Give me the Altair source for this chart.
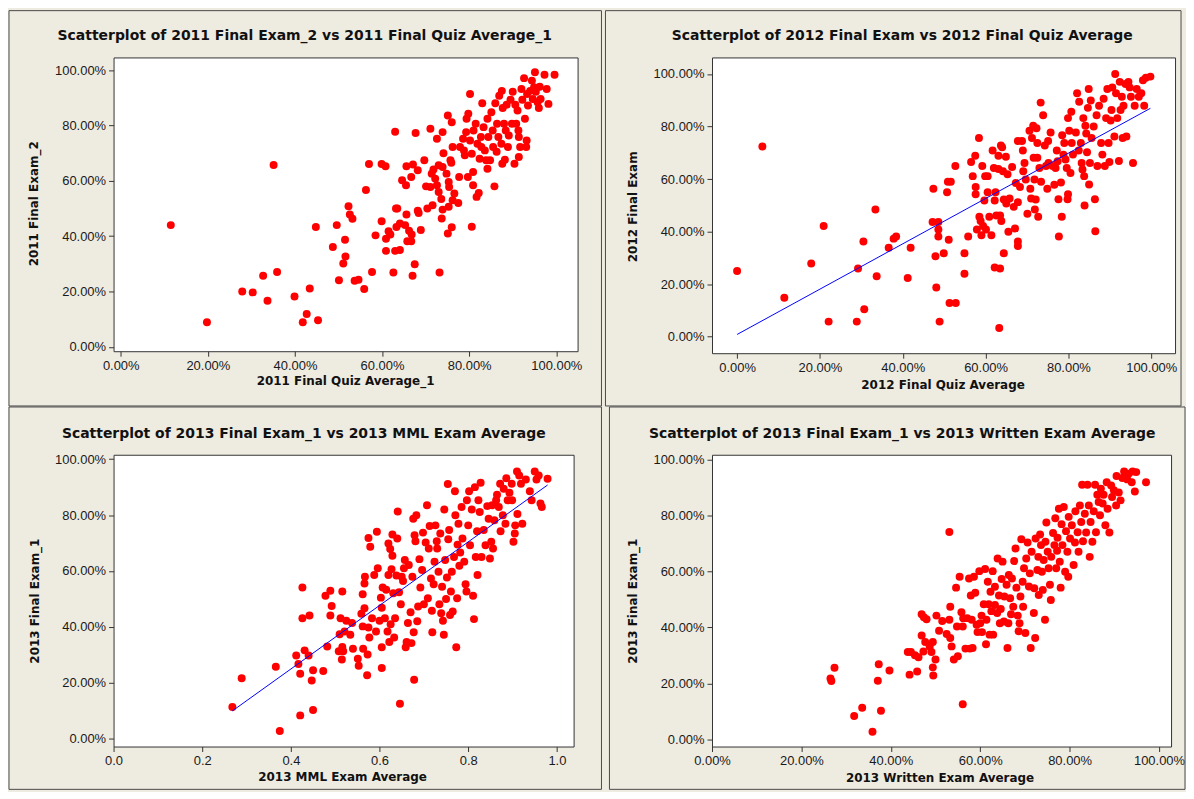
import altair as alt
import pandas as pd

# ---------------- data ----------------
# Panel 1: 2011 Final Quiz Average_1 (x, %) vs 2011 Final Exam_2 (y, %)
p1_x = [11.5, 19.8, 35.1, 27.9, 30.3, 32.7, 33.7, 35.9, 39.9, 41.8,
        42.7, 43.4, 45.3, 44.8, 48.7, 49.6, 50.1, 51.1, 51.5, 51.6,
        52.3, 52.6, 53.2, 53.7, 54.6, 55.9, 56.3, 57.0, 57.7, 58.5,
        59.9, 59.9, 60.8, 60.9, 60.9, 61.5, 61.9, 62.6, 63.0, 63.0,
        63.2, 63.5, 63.3, 64.1, 64.1, 64.6, 65.3, 65.5, 65.6, 65.6,
        65.8, 66.2, 66.7, 66.7, 66.8, 67.0, 67.1, 67.5, 67.7, 68.2,
        68.2, 68.4, 68.9, 69.7, 70.1, 70.4, 71.1, 71.1, 71.4, 71.6,
        71.8, 72.2, 72.6, 72.6, 73.0, 73.0, 73.2, 73.6, 73.7, 73.9,
        73.9, 73.9, 74.1, 74.8, 75.1, 75.1, 75.3, 75.4, 75.3, 75.7,
        75.9, 76.0, 76.0, 76.2, 76.6, 76.2, 77.5, 77.7, 77.9, 78.6,
        78.8, 79.0, 79.3, 79.4, 79.7, 79.8, 80.2, 80.2, 80.6, 80.9,
        80.9, 80.6, 81.0, 81.5, 81.7, 81.9, 82.2, 82.4, 82.7, 82.8,
        83.0, 83.3, 83.6, 83.9, 84.2, 84.2, 84.4, 84.8, 85.1, 85.4,
        85.5, 85.8, 86.0, 86.3, 86.4, 86.7, 86.9, 87.4, 87.5, 87.6,
        87.7, 88.0, 88.2, 88.4, 88.6, 88.9, 89.1, 89.5, 89.8, 90.0,
        90.4, 90.6, 90.8, 91.1, 91.3, 91.4, 91.4, 91.7, 92.0, 92.2,
        92.6, 92.8, 93.1, 93.2, 93.3, 93.5, 94.0, 94.4, 94.6, 94.9,
        95.1, 95.3, 95.7, 96.0, 96.2, 96.4, 97.3, 97.8, 98.2, 99.6]
p1_y = [44.0, 8.9, 65.7, 20.0, 19.7, 25.7, 16.7, 27.1, 18.2, 8.9,
        11.9, 21.1, 9.6, 43.3, 36.1, 44.0, 24.1, 30.1, 38.7, 32.7,
        50.8, 47.8, 46.3, 23.9, 24.3, 20.9, 56.7, 66.1, 27.1, 40.3,
        66.1, 45.4, 65.3, 39.1, 34.7, 41.8, 40.6, 26.9, 77.7, 34.7,
        50.0, 50.0, 43.3, 35.0, 44.6, 60.2, 44.0, 58.4, 65.3, 47.8,
        38.2, 42.0, 38.2, 61.4, 40.6, 25.7, 65.9, 29.9, 77.3, 63.8,
        49.2, 48.4, 42.2, 67.4, 58.0, 50.0, 78.8, 57.8, 62.6, 51.2,
        64.1, 60.8, 75.2, 58.4, 65.6, 56.0, 26.9, 53.4, 46.4, 77.6,
        65.0, 49.6, 70.0, 62.6, 83.6, 41.0, 59.6, 57.8, 50.6, 67.4,
        66.5, 81.2, 43.2, 53.0, 55.4, 72.2, 52.0, 61.4, 72.2, 75.2,
        71.0, 69.2, 77.6, 82.4, 61.4, 84.2, 91.4, 74.6, 43.4, 58.4,
        63.2, 69.8, 78.2, 80.6, 54.2, 73.4, 55.6, 68.0, 75.8, 72.2,
        88.0, 79.4, 71.0, 67.4, 82.4, 64.4, 75.8, 67.4, 84.8, 78.2,
        72.2, 58.0, 88.0, 70.5, 80.6, 75.8, 90.7, 73.4, 92.5, 66.2,
        86.3, 80.6, 67.6, 78.2, 87.5, 72.2, 76.4, 89.3, 80.6, 92.2,
        66.2, 87.5, 80.6, 85.4, 78.2, 75.8, 68.6, 72.2, 93.2, 89.3,
        97.1, 82.4, 72.2, 74.6, 91.4, 87.2, 92.5, 96.2, 89.6, 93.8,
        99.2, 92.2, 88.4, 86.3, 94.0, 89.6, 98.3, 93.2, 87.8, 98.3]

# Panel 2: 2012 Final Quiz Average (x, %) vs 2012 Final Exam (y, %)
p2_x = [0.0, 6.1, 11.4, 17.9, 20.9, 22.1, 28.9, 29.2, 30.5, 30.7,
        33.4, 33.7, 36.6, 37.8, 38.4, 41.2, 41.9, 47.4, 47.2, 47.9,
        48.1, 48.6, 48.6, 48.6, 48.9, 49.9, 50.7, 50.9, 51.3, 51.1,
        51.6, 52.7, 52.8, 54.9, 54.9, 55.8, 56.5, 56.9, 57.5, 57.6,
        57.6, 57.9, 58.4, 58.5, 58.8, 59.0, 59.2, 59.4, 59.7, 59.9,
        60.1, 60.5, 60.5, 60.9, 61.4, 61.7, 62.0, 62.2, 62.2, 62.4,
        62.6, 63.1, 63.1, 63.3, 63.5, 63.5, 63.7, 63.8, 64.0, 64.2,
        64.4, 64.4, 64.9, 65.0, 65.3, 65.5, 65.8, 66.4, 66.8, 67.1,
        67.3, 67.8, 67.8, 67.8, 67.8, 68.3, 68.8, 69.0, 69.1, 69.4,
        69.7, 70.1, 70.6, 70.8, 71.0, 71.2, 71.5, 71.6, 71.8, 71.9,
        72.1, 72.3, 72.5, 72.5, 72.7, 73.0, 73.3, 73.4, 73.9, 74.3,
        74.6, 74.9, 75.1, 75.2, 75.7, 76.2, 76.6, 76.9, 77.2, 77.4,
        77.6, 77.7, 78.2, 78.4, 78.5, 78.8, 79.0, 79.3, 79.6, 79.8,
        79.9, 79.9, 80.2, 80.5, 80.7, 80.8, 81.1, 81.8, 82.1, 82.5,
        82.6, 83.0, 83.2, 83.4, 83.6, 83.8, 83.9, 84.1, 84.3, 84.5,
        84.7, 84.9, 85.0, 85.2, 85.4, 85.6, 86.1, 86.4, 86.5, 86.8,
        87.0, 87.4, 87.9, 88.2, 88.5, 88.8, 89.1, 89.4, 89.7, 89.9,
        90.2, 90.4, 90.6, 91.1, 91.3, 91.5, 91.8, 92.2, 92.4, 92.6,
        92.9, 93.1, 93.3, 93.8, 94.0, 94.5, 94.8, 95.1, 95.6, 96.0,
        96.5, 97.0, 97.6, 98.0, 98.3, 98.7, 99.8]
p2_y = [25.0, 72.4, 14.8, 27.8, 42.1, 5.7, 5.7, 25.9, 36.2, 10.4,
        48.4, 23.0, 33.8, 37.3, 38.1, 22.3, 33.8, 56.3, 43.6, 30.6,
        18.7, 43.6, 40.8, 38.1, 5.7, 31.7, 55.0, 59.0, 12.8, 36.9,
        59.0, 65.0, 12.8, 31.7, 23.9, 38.1, 66.5, 61.1, 68.9, 57.0,
        54.2, 40.8, 75.6, 45.6, 44.0, 38.6, 65.0, 42.1, 51.8, 61.1,
        40.8, 61.1, 55.0, 45.6, 38.6, 70.9, 64.2, 51.8, 26.3, 55.0,
        46.1, 68.9, 63.8, 3.3, 25.9, 46.1, 72.8, 44.0, 72.1, 63.0,
        52.2, 31.7, 68.5, 50.7, 61.8, 39.9, 52.6, 64.6, 49.4, 41.2,
        58.5, 36.2, 34.5, 51.2, 74.5, 57.0, 74.5, 70.9, 63.0, 66.1,
        59.8, 46.8, 78.4, 56.3, 52.6, 75.6, 80.3, 68.1, 59.8, 48.4,
        52.2, 79.3, 68.1, 73.7, 45.6, 64.2, 89.1, 59.0, 84.3, 72.8,
        65.0, 56.3, 74.5, 66.1, 77.7, 65.0, 57.8, 64.2, 70.9, 66.8,
        52.3, 38.1, 58.7, 45.6, 76.7, 69.3, 73.7, 67.4, 64.2, 52.3,
        54.2, 83.2, 78.4, 62.3, 85.6, 73.7, 69.3, 77.7, 92.7, 70.9,
        89.4, 73.7, 66.1, 63.6, 83.2, 61.1, 49.9, 80.3, 77.3, 70.2,
        87.1, 94.3, 57.9, 66.1, 89.9, 75.6, 80.0, 52.3, 40.1, 84.3,
        65.0, 87.9, 73.7, 69.3, 90.6, 65.0, 83.2, 94.3, 73.7, 66.5,
        82.3, 86.3, 94.9, 76.2, 100.0, 92.7, 83.2, 66.9, 97.0, 86.3,
        91.3, 75.6, 87.9, 96.2, 76.2, 97.0, 94.9, 91.3, 66.1, 87.9,
        94.3, 91.3, 92.7, 97.6, 87.9, 98.6, 99.0]

# Panel 3: 2013 MML Exam Average (x, fraction) vs 2013 Final Exam_1 (y, %)
p3_x = [0.268, 0.289, 0.366, 0.375, 0.412, 0.417, 0.421, 0.421, 0.426, 0.426,
        0.431, 0.440, 0.442, 0.447, 0.450, 0.450, 0.473, 0.478, 0.482, 0.489,
        0.489, 0.492, 0.508, 0.510, 0.512, 0.515, 0.516, 0.516, 0.518, 0.521,
        0.525, 0.534, 0.538, 0.540, 0.551, 0.553, 0.559, 0.562, 0.562, 0.563,
        0.566, 0.566, 0.567, 0.572, 0.573, 0.575, 0.575, 0.577, 0.579, 0.583,
        0.588, 0.592, 0.594, 0.596, 0.600, 0.603, 0.605, 0.605, 0.605, 0.607,
        0.612, 0.615, 0.618, 0.620, 0.620, 0.622, 0.624, 0.625, 0.627, 0.629,
        0.629, 0.631, 0.633, 0.635, 0.638, 0.640, 0.641, 0.644, 0.646, 0.648,
        0.650, 0.653, 0.655, 0.657, 0.659, 0.661, 0.664, 0.666, 0.670, 0.672,
        0.674, 0.676, 0.677, 0.678, 0.679, 0.681, 0.683, 0.685, 0.687, 0.690,
        0.692, 0.696, 0.698, 0.700, 0.704, 0.707, 0.709, 0.711, 0.713, 0.716,
        0.718, 0.719, 0.722, 0.724, 0.726, 0.729, 0.730, 0.733, 0.735, 0.737,
        0.739, 0.741, 0.743, 0.745, 0.746, 0.748, 0.750, 0.752, 0.754, 0.755,
        0.757, 0.759, 0.761, 0.763, 0.765, 0.768, 0.770, 0.771, 0.773, 0.775,
        0.776, 0.778, 0.780, 0.782, 0.785, 0.787, 0.791, 0.794, 0.796, 0.797,
        0.800, 0.802, 0.804, 0.808, 0.811, 0.813, 0.815, 0.817, 0.820, 0.821,
        0.823, 0.826, 0.828, 0.830, 0.835, 0.839, 0.843, 0.846, 0.849, 0.852,
        0.854, 0.856, 0.859, 0.863, 0.865, 0.869, 0.872, 0.873, 0.878, 0.880,
        0.884, 0.886, 0.889, 0.893, 0.898, 0.899, 0.902, 0.905, 0.906, 0.910,
        0.911, 0.915, 0.919, 0.922, 0.930, 0.939, 0.943, 0.950, 0.954, 0.959,
        0.963, 0.966, 0.979]
p3_y = [11.2, 21.5, 25.6, 2.6, 29.7, 26.6, 23.1, 8.2, 54.0, 43.0,
        31.5, 29.7, 44.0, 20.7, 24.4, 10.1, 24.1, 51.1, 32.9, 52.9,
        44.0, 47.4, 31.2, 37.3, 43.0, 28.2, 52.6, 32.7, 31.2, 38.3,
        42.1, 37.1, 41.3, 32.1, 28.5, 26.0, 44.6, 51.6, 40.1, 32.1,
        46.6, 55.5, 57.9, 22.6, 30.0, 71.8, 39.7, 36.1, 68.6, 43.0,
        58.5, 38.3, 74.0, 60.9, 42.1, 50.4, 46.8, 32.6, 25.2, 54.0,
        43.0, 53.2, 38.3, 69.8, 58.5, 34.5, 67.8, 40.9, 60.6, 73.0,
        65.4, 52.0, 36.1, 43.0, 58.3, 71.6, 81.3, 52.3, 12.4, 48.0,
        57.9, 56.4, 60.9, 63.9, 32.6, 34.5, 41.3, 62.1, 45.2, 34.1,
        57.9, 78.7, 38.0, 21.0, 72.8, 70.6, 79.9, 41.9, 47.2, 64.2,
        54.0, 60.3, 73.7, 48.0, 70.2, 83.5, 50.2, 68.0, 76.1, 57.3,
        45.7, 38.0, 55.2, 63.3, 76.3, 70.6, 68.0, 59.7, 48.0, 73.4,
        44.8, 54.3, 42.1, 37.1, 82.0, 63.9, 49.9, 57.6, 91.1, 71.3,
        74.6, 44.2, 52.6, 59.7, 45.4, 65.0, 88.5, 79.9, 32.6, 50.2,
        69.4, 76.9, 61.8, 66.6, 82.9, 71.6, 63.3, 55.2, 52.6, 85.3,
        76.3, 88.5, 69.2, 82.0, 51.1, 42.7, 90.0, 65.0, 74.2, 58.5,
        85.3, 81.1, 91.6, 65.0, 74.6, 69.2, 83.2, 78.7, 64.4, 70.4,
        83.5, 68.0, 78.1, 85.3, 87.3, 82.9, 91.2, 74.2, 79.9, 89.4,
        76.9, 93.2, 85.3, 88.0, 91.2, 85.3, 70.4, 73.4, 76.3, 95.6,
        80.4, 94.2, 91.2, 76.9, 92.7, 88.5, 85.3, 95.6, 92.7, 94.2,
        84.1, 82.9, 93.0]

# Panel 4: 2013 Written Exam Average (x, %) vs 2013 Final Exam_1 (y, %)
p4_x = [26.5, 26.7, 27.4, 31.8, 33.6, 35.9, 37.1, 37.3, 37.8, 39.7,
        43.8, 44.2, 44.5, 45.4, 45.9, 46.2, 46.9, 46.9, 47.3, 47.4,
        47.7, 48.0, 48.7, 49.1, 49.4, 49.4, 49.5, 50.0, 50.2, 50.8,
        51.5, 52.5, 53.1, 53.1, 53.3, 53.3, 53.6, 54.1, 54.6, 54.8,
        55.0, 55.4, 55.8, 56.1, 56.1, 56.2, 56.7, 57.1, 57.5, 57.7,
        57.9, 58.1, 58.3, 58.6, 58.9, 59.2, 59.4, 59.8, 60.0, 60.3,
        60.4, 60.8, 61.1, 61.3, 61.4, 61.7, 61.9, 62.1, 62.3, 62.5,
        62.8, 62.9, 63.3, 63.3, 63.8, 63.9, 64.2, 64.4, 64.6, 64.8,
        65.0, 65.3, 65.4, 65.9, 66.1, 66.3, 66.4, 66.7, 66.9, 67.1,
        67.4, 67.6, 67.9, 68.1, 68.4, 68.6, 68.8, 69.0, 69.2, 69.5,
        69.6, 69.8, 70.1, 70.3, 70.6, 70.9, 71.1, 71.3, 71.5, 72.0,
        72.1, 72.3, 72.4, 72.8, 73.0, 73.1, 73.4, 73.6, 73.8, 74.0,
        74.2, 74.5, 74.6, 74.8, 75.1, 75.3, 75.6, 75.8, 75.9, 76.3,
        76.6, 76.8, 77.0, 77.2, 77.3, 77.6, 77.8, 78.0, 78.2, 78.4,
        78.7, 79.0, 79.2, 79.5, 79.7, 79.8, 80.1, 80.5, 80.9, 81.2,
        81.3, 81.8, 82.0, 82.3, 82.6, 82.8, 83.0, 83.4, 83.7, 84.0,
        84.3, 84.5, 84.7, 85.1, 85.4, 85.7, 85.9, 86.2, 86.5, 86.8,
        87.0, 87.4, 87.6, 88.0, 88.3, 88.5, 88.9, 89.3, 89.5, 89.9,
        90.4, 90.5, 91.0, 91.4, 91.8, 92.2, 92.9, 93.2, 93.9, 94.1,
        94.6, 94.9, 97.1]
p4_y = [21.7, 20.8, 25.6, 8.3, 11.3, 2.7, 20.9, 26.8, 10.2, 24.6,
        31.2, 23.1, 31.2, 30.0, 24.2, 29.3, 37.1, 44.7, 31.4, 43.6,
        34.8, 42.9, 33.2, 31.2, 34.8, 25.7, 22.8, 28.5, 44.2, 38.8,
        42.3, 37.6, 74.1, 42.7, 47.4, 36.2, 33.2, 28.5, 54.2, 40.3,
        29.7, 58.1, 45.4, 12.5, 40.3, 43.3, 32.4, 43.3, 57.5, 32.4,
        51.4, 42.7, 32.6, 58.1, 52.4, 40.9, 38.3, 60.1, 41.5, 44.2,
        38.3, 48.3, 60.9, 34.0, 42.7, 56.3, 48.3, 37.4, 52.7, 45.8,
        60.1, 37.4, 54.5, 48.0, 45.1, 64.6, 51.4, 41.5, 46.6, 57.3,
        63.5, 42.1, 51.0, 55.2, 32.6, 41.5, 58.7, 50.4, 44.7, 57.5,
        47.4, 63.7, 68.2, 54.2, 44.2, 38.6, 41.5, 51.0, 71.5, 56.3,
        47.4, 61.1, 38.0, 64.6, 70.3, 54.6, 59.3, 32.6, 67.0, 45.1,
        54.0, 36.2, 71.8, 60.5, 65.2, 51.6, 73.2, 69.4, 59.9, 53.4,
        64.1, 42.7, 70.6, 77.5, 67.0, 61.1, 55.2, 49.8, 65.2, 73.7,
        69.4, 79.0, 61.1, 67.4, 72.0, 82.4, 63.5, 54.2, 76.9, 69.4,
        83.0, 59.9, 74.4, 67.0, 58.1, 79.5, 71.8, 76.5, 62.3, 70.3,
        81.5, 74.0, 67.0, 83.6, 77.7, 91.0, 70.8, 80.6, 73.9, 91.0,
        83.6, 65.2, 77.7, 70.6, 81.5, 91.0, 74.0, 87.4, 84.8, 80.1,
        89.6, 84.3, 87.4, 76.5, 91.9, 82.4, 73.9, 90.7, 86.6, 89.0,
        83.6, 94.1, 88.2, 85.4, 93.4, 95.7, 92.9, 94.9, 91.9, 95.7,
        88.6, 95.5, 91.9]

titles = [
    "Scatterplot of 2011 Final Exam_2 vs 2011 Final Quiz Average_1",
    "Scatterplot of 2012 Final Exam vs 2012 Final Quiz Average",
    "Scatterplot of 2013 Final Exam_1 vs 2013 MML Exam Average",
    "Scatterplot of 2013 Final Exam_1 vs 2013 Written Exam Average",
]
x_titles = ["2011 Final Quiz Average_1", "2012 Final Quiz Average",
            "2013 MML Exam Average", "2013 Written Exam Average"]
y_titles = ["2011 Final Exam_2", "2012 Final Exam", "2013 Final Exam_1", "2013 Final Exam_1"]
pct_ticks = [0, 20, 40, 60, 80, 100]
frac_ticks = [0.0, 0.2, 0.4, 0.6, 0.8, 1.0]

# ---------------- styling ----------------
BG = "#EEEBE1"
FRAME = "#4a4a4a"
PCT = "format(datum.value, '.2f') + '%'"
FRAC = "format(datum.value, '.1f')"
TITLE_FONT = "DejaVu Sans"
LABEL_FONT = "Liberation Sans"


def panel(xs, ys, w, h, xdom, ydom, xticks, xexpr, title, xt, yt,
          tpos, xtpos, ytpos, border, reg=False):
    df = pd.DataFrame({"x": xs, "y": ys})
    one = pd.DataFrame({"k": [0]})
    xenc = alt.X("x:Q", scale=alt.Scale(domain=xdom, nice=False, zero=False),
                 axis=alt.Axis(values=xticks, labelExpr=xexpr, title=None))
    yenc = alt.Y("y:Q", scale=alt.Scale(domain=ydom, nice=False, zero=False),
                 axis=alt.Axis(values=pct_ticks, labelExpr=PCT, title=None))
    base1 = alt.Chart(one)
    frame = base1.mark_rect(fill="transparent", stroke=FRAME, strokeWidth=1).encode(
        x=alt.value(border[0]), x2=alt.value(border[1]),
        y=alt.value(border[2]), y2=alt.value(border[3]))
    pts = alt.Chart(df).mark_circle(size=64, color="#FF0000", opacity=1).encode(x=xenc, y=yenc)
    layers = [frame, pts]
    if reg:
        line = alt.Chart(df).transform_regression("x", "y").mark_line(
            color="#0000FF", strokeWidth=1).encode(x=xenc, y=yenc)
        layers.append(line)
    ttl = base1.mark_text(text=title, font=TITLE_FONT, fontSize=14, fontWeight="bold",
                          color="#111111", align="center", baseline="middle").encode(
        x=alt.value(tpos[0]), y=alt.value(tpos[1]))
    xtt = base1.mark_text(text=xt, font=TITLE_FONT, fontSize=12, fontWeight="bold",
                          color="#111111", align="center", baseline="middle").encode(
        x=alt.value(xtpos[0]), y=alt.value(xtpos[1]))
    ytt = base1.mark_text(text=yt, font=TITLE_FONT, fontSize=12, fontWeight="bold",
                          color="#111111", align="center", baseline="middle", angle=270).encode(
        x=alt.value(ytpos[0]), y=alt.value(ytpos[1]))
    layers += [ttl, xtt, ytt]
    return alt.layer(*layers).properties(width=w, height=h)


c1 = panel(p1_x, p1_y, 466, 295, [-1.646, 104.89], [-1.55, 104.57], pct_ticks, PCT,
           titles[0], x_titles[0], y_titles[0], (192, -22), (233, 325), (-80, 147),
           (-105, 490, -47, 350))
c2 = panel(p2_x, p2_y, 465, 297, [-6.06, 105.75], [-6.33, 106.3], pct_ticks, PCT,
           titles[1], x_titles[1], y_titles[1], (191, -22), (232, 329), (-79, 150),
           (-107, 471, -47, 350), reg=True)
c3 = panel(p3_x, p3_y, 462, 293, [0.0, 1.0377], [-2.96, 101.6], frac_ticks, FRAC,
           titles[2], x_titles[2], y_titles[2], (191, -21), (230, 324), (-79, 147),
           (-105, 490, -48, 336), reg=True)
c4 = panel(p4_x, p4_y, 461, 293, [0.0, 102.7], [-2.6, 101.7], pct_ticks, PCT,
           titles[3], x_titles[3], y_titles[3], (191, -21), (229, 325), (-79, 147),
           (-103, 475, -48, 336))

chart = alt.concat(
    c1, c2, c3, c4, columns=2,
    spacing={"row": 102, "column": 135},
    bounds="flush",
    align={"row": "all", "column": "none"},
).properties(padding=0).configure(background=BG).configure_view(
    fill="white", stroke="#333333", strokeWidth=1
).configure_axis(
    grid=False, domain=False, ticks=True, tickSize=5, tickColor="#333333",
    labelFont=LABEL_FONT, labelFontSize=13, labelColor="#1a1a1a",
    labelPadding=3, labelFlush=False, labelOverlap=False, labelBound=False
)

chart.save("out.html", embed_options={"renderer": "svg", "actions": False})
